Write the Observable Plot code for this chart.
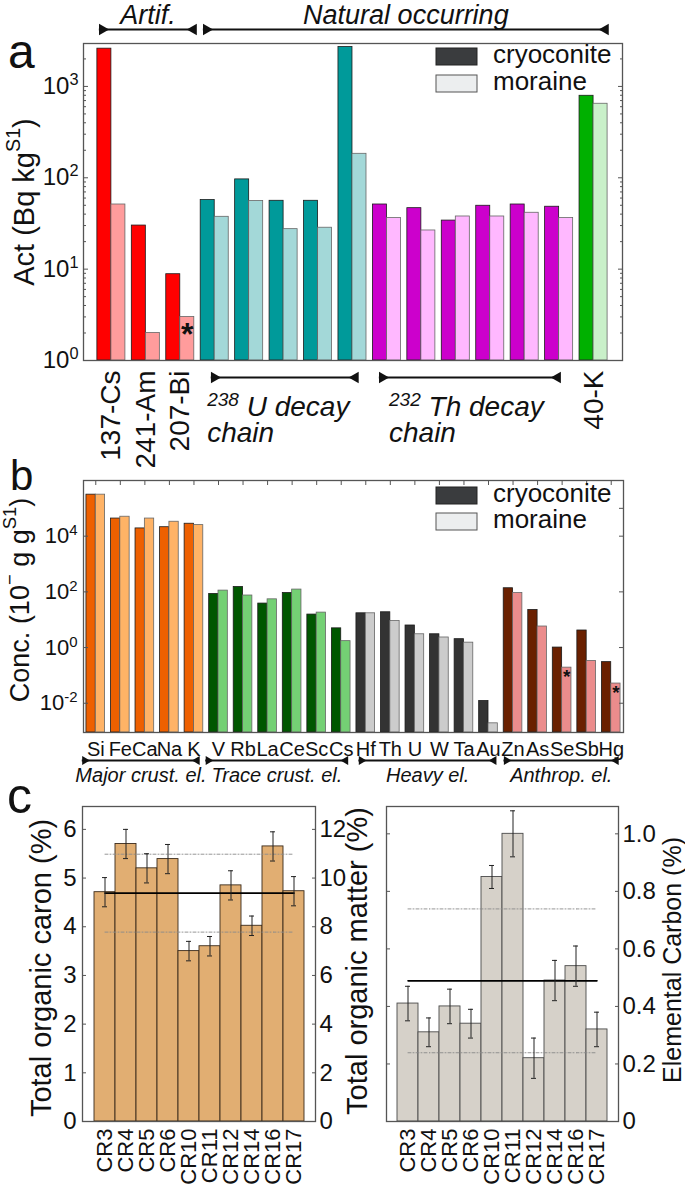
<!DOCTYPE html>
<html><head><meta charset="utf-8">
<script src="https://cdn.jsdelivr.net/npm/d3@7"></script>
<script src="https://cdn.jsdelivr.net/npm/@observablehq/plot@0.6"></script>
<style>
body{margin:0;background:#fff;}
#fig{position:relative;width:685px;height:1187px;overflow:hidden;background:#fff;}
#fig svg{position:absolute;max-width:none;}
</style></head><body><div id="fig"></div>
<script>
// ---------------- DATA ----------------
// Panel a: activity concentrations (Bq kg-1)
const nuclides = ["137-Cs","241-Am","207-Bi","238U chain 1","238U chain 2","238U chain 3","238U chain 4","238U chain 5",
  "232Th chain 1","232Th chain 2","232Th chain 3","232Th chain 4","232Th chain 5","232Th chain 6","40-K"];
const nuclideFamily = ["artif","artif","artif","U","U","U","U","U","Th","Th","Th","Th","Th","Th","K"];
const nuclideLabel = ["137-Cs","241-Am","207-Bi","","","","","","","","","","","","40-K"];
const actCryoconite = [2590, 30, 8.8, 57, 96, 56, 56, 2700, 51, 46.5, 34, 49.4, 51, 48.2, 790];
const actMoraine    = [51, 2.0, 3.0, 37.4, 55.6, 27.4, 28.4, 183, 36.2, 26.5, 37.7, 37.7, 41.4, 36.2, 646];
const actStarred = ["207-Bi"];
const ticksA = [1, 10, 100, 1000];
const minorA = [2,3,4,5,6,7,8,9,20,30,40,50,60,70,80,90,200,300,400,500,600,700,800,900,2000];
const spansA = [
  {text: "Artif.", x1: -0.35, x2: 2.47, side: "top"},
  {text: "Natural occurring", x1: 2.67, x2: 14.43, side: "top"},
  {text: "^{238} U decay\nchain", x1: 2.9, x2: 7.17, tx: 2.78, side: "bottom"},
  {text: "^{232} Th decay\nchain", x1: 7.78, x2: 13.04, tx: 8.06, side: "bottom"}
];

// Panel b: element concentrations
const elements = ["Si","Fe","Ca","Na","K","V","Rb","La","Ce","Sc","Cs","Hf","Th","U","W","Ta","Au","Zn","As","Se","Sb","Hg"];
const elementGroup = ["major","major","major","major","major","trace","trace","trace","trace","trace","trace",
  "heavy","heavy","heavy","heavy","heavy","heavy","anthrop","anthrop","anthrop","anthrop","anthrop"];
const concCryoconite = [3.1e5, 4.3e4, 1.9e4, 2.1e4, 2.8e4, 84, 150, 38, 91, 15.3, 4.9, 17, 18.5, 6.2, 3.0, 2.0, 0.012, 135, 22.4, 1.0, 4.1, 0.30];
const concMoraine    = [3.1e5, 5.0e4, 4.3e4, 3.3e4, 2.5e4, 111, 74, 54, 121, 18, 1.7, 17, 9.0, 3.0, 2.3, 1.5, 0.0019, 91, 5.7, 0.19, 0.33, 0.051];
const concStarred = ["Se","Hg"];
const ticksB = [1e-2, 1, 1e2, 1e4];
const rightTicksB = [1e-2, 1, 1e2, 1e4, 1e5];
const spansB = [
  {text: "Major crust. el.", x1: -0.55, x2: 4.23},
  {text: "Trace crust. el.", x1: 4.48, x2: 10.28},
  {text: "Heavy el.", x1: 10.72, x2: 16.32},
  {text: "Anthrop. el.", x1: 16.63, x2: 21.3}
];

// Panel c
const samples = ["CR3","CR4","CR5","CR6","CR10","CR11","CR12","CR14","CR16","CR17"];
const toc    = [4.71, 5.70, 5.20, 5.39, 3.50, 3.60, 4.85, 4.02, 5.65, 4.73];
const tocErr = [0.30, 0.30, 0.30, 0.30, 0.20, 0.20, 0.30, 0.20, 0.30, 0.30];
const tocMean = 4.69, tocSd = 0.80;
const ec    = [0.41, 0.31, 0.40, 0.34, 0.85, 1.00, 0.22, 0.49, 0.54, 0.32];
const ecErr = [0.06, 0.05, 0.06, 0.05, 0.04, 0.08, 0.07, 0.07, 0.07, 0.06];
const ecMean = 0.489, ecSd = 0.25;
const ticksTOC = [0,1,2,3,4,5,6];
const ticksTOM = [0,2,4,6,8,10,12];
const tomPerToc = 2;
const ticksEC = [0,0.2,0.4,0.6,0.8,1.0];

// ---------------- STYLE ----------------
const FONT = '"Liberation Sans", Arial, Helvetica, sans-serif';
const familyColorsA = {artif: ["#ff0000","#ff9c9c"], U: ["#009a9a","#a3d8d8"], Th: ["#cc00cc","#ffb8ff"], K: ["#00b000","#c9f0c9"]};
const groupColorsB = {major: ["#ee6000","#ffb366"], trace: ["#005700","#74d074"], heavy: ["#333333","#cccccc"], anthrop: ["#6a2000","#eb8c8c"]};
const HALF_A = 0.407, HALF_B = 0.38;
const svgNS = "http://www.w3.org/2000/svg";
const fig = document.getElementById("fig");

function supify(root) {
  const walker = document.createTreeWalker(root, NodeFilter.SHOW_TEXT);
  const nodes = [];
  while (walker.nextNode()) if (walker.currentNode.nodeValue.includes("^{")) nodes.push(walker.currentNode);
  for (const node of nodes) {
    const parts = node.nodeValue.split(/\^\{([^}]*)\}/);
    const frag = document.createDocumentFragment();
    parts.forEach((p, k) => {
      if (!p) return;
      if (k % 2) {
        const t = document.createElementNS(svgNS, "tspan");
        t.setAttribute("baseline-shift", "super");
        t.setAttribute("style", "font-size:0.68em");
        t.textContent = p;
        frag.appendChild(t);
      } else frag.appendChild(document.createTextNode(p));
    });
    node.parentNode.replaceChild(frag, node);
  }
}
function place(el, left, top) {
  el.style.position = "absolute";
  el.style.left = left + "px";
  el.style.top = top + "px";
  fig.appendChild(el);
  supify(el);
}
const baseStyle = {fontFamily: FONT, fontSize: "24px", background: "transparent", overflow: "visible", color: "#111", maxWidth: "none"};
const logLabel = d => "10^{" + Math.round(Math.log10(d)) + "}";
const blank = () => "";

// ---------------- PANEL A ----------------
const rowsA = nuclides.map((name, i) => ({name, i, family: nuclideFamily[i], label: nuclideLabel[i],
  cryo: actCryoconite[i], mor: actMoraine[i], star: actStarred.includes(name)}));
const yA = [1, 2950];
const marksA = [];
for (const [fam, [cCol, mCol]] of Object.entries(familyColorsA)) {
  const rs = rowsA.filter(r => r.family === fam);
  marksA.push(
    Plot.rect(rs, {x1: r => r.i - HALF_A, x2: r => r.i, y1: () => yA[0], y2: "cryo", fill: cCol, stroke: "#1b1b1b", strokeWidth: 0.8}),
    Plot.rect(rs, {x1: r => r.i, x2: r => r.i + HALF_A, y1: () => yA[0], y2: "mor", fill: mCol, stroke: "#666", strokeWidth: 0.8})
  );
}
const topA = spansA.filter(s => s.side === "top"), botA = spansA.filter(s => s.side === "bottom");
const plotA = Plot.plot({
  width: 685, height: 465, marginLeft: 83, marginRight: 63, marginTop: 43, marginBottom: 105,
  style: baseStyle,
  x: {domain: [-0.81, 14.84], axis: null, label: null},
  y: {type: "log", domain: yA, label: null},
  marks: [
    ...marksA,
    Plot.text(rowsA.filter(r => r.star), {x: r => r.i + HALF_A / 2, y: "mor", text: () => "*", fontSize: 32, fontWeight: "bold", dy: 18}),
    Plot.text(rowsA.filter(r => r.label), {x: "i", y: () => yA[0], text: "label", rotate: -90, textAnchor: "end", dy: 10, fontSize: 28}),
    Plot.ruleY(topA, {y: () => yA[1], x1: "x1", x2: "x2", dy: -14, stroke: "#111", strokeWidth: 2.2}),
    Plot.dot(topA, {x: "x1", y: () => yA[1], dy: -14, dx: 3, symbol: "triangle", r: 4.3, rotate: 90, fill: "#111"}),
    Plot.dot(topA, {x: "x2", y: () => yA[1], dy: -14, dx: -3, symbol: "triangle", r: 4.3, rotate: -90, fill: "#111"}),
    Plot.text(topA, {x: d => (d.x1 + d.x2) / 2, y: () => yA[1], dy: -28, text: "text", fontStyle: "italic", fontSize: 27}),
    Plot.ruleY(botA, {y: () => yA[0], x1: "x1", x2: "x2", dy: 17, stroke: "#111", strokeWidth: 2.2}),
    Plot.dot(botA, {x: "x1", y: () => yA[0], dy: 17, dx: 3, symbol: "triangle", r: 4.3, rotate: 90, fill: "#111"}),
    Plot.dot(botA, {x: "x2", y: () => yA[0], dy: 17, dx: -3, symbol: "triangle", r: 4.3, rotate: -90, fill: "#111"}),
    Plot.text(botA, {x: "tx", y: () => yA[0], dy: 37, text: "text", textAnchor: "start", lineAnchor: "top", lineHeight: 0.92, fontStyle: "italic", fontSize: 28}),
    Plot.axisY(ticksA, {anchor: "left", tickSize: 0, tickPadding: 5, tickFormat: logLabel, fontSize: 24, label: null}),
    Plot.axisY(ticksA, {anchor: "left", tickSize: -5, tickFormat: blank, label: null, stroke: "#555"}),
    Plot.axisY(minorA, {anchor: "left", tickSize: -3, tickFormat: blank, label: null, stroke: "#555"}),
    Plot.axisY(ticksA, {anchor: "right", tickSize: -5, tickFormat: blank, label: null, stroke: "#555"}),
    Plot.axisY(minorA, {anchor: "right", tickSize: -3, tickFormat: blank, label: null, stroke: "#555"}),
    Plot.frame({stroke: "#555", strokeWidth: 1.3})
  ]
});
place(plotA, 0, 0);

// ---------------- PANEL B ----------------
const rowsB = elements.map((el, i) => ({el, i, group: elementGroup[i], cryo: concCryoconite[i], mor: concMoraine[i], star: concStarred.includes(el)}));
const yB = [8.9e-4, 1e6];
const marksB = [];
for (const [grp, [cCol, mCol]] of Object.entries(groupColorsB)) {
  const rs = rowsB.filter(r => r.group === grp);
  marksB.push(
    Plot.rect(rs, {x1: r => r.i - HALF_B, x2: r => r.i, y1: () => yB[0], y2: "cryo", fill: cCol, stroke: "#1b1b1b", strokeWidth: 0.8}),
    Plot.rect(rs, {x1: r => r.i, x2: r => r.i + HALF_B, y1: () => yB[0], y2: "mor", fill: mCol, stroke: "#666", strokeWidth: 0.8})
  );
}
const plotB = Plot.plot({
  width: 685, height: 330, marginLeft: 83, marginRight: 62, marginTop: 15, marginBottom: 63,
  style: baseStyle,
  x: {domain: [-0.5, elements.length - 0.5], label: null},
  y: {type: "log", domain: yB, label: null},
  marks: [
    ...marksB,
    Plot.text(rowsB.filter(r => r.star), {x: r => r.i + HALF_B / 2, y: "mor", text: () => "*", fontSize: 19, fontWeight: "bold", dy: 9}),
    Plot.text(rowsB, {x: "i", y: () => yB[0], text: "el", dy: 17, fontSize: 20}),
    Plot.ruleY(spansB, {y: () => yB[0], x1: "x1", x2: "x2", dy: 28, stroke: "#111", strokeWidth: 1.8}),
    Plot.dot(spansB, {x: "x1", y: () => yB[0], dy: 28, dx: 2.5, symbol: "triangle", r: 3.3, rotate: 90, fill: "#111"}),
    Plot.dot(spansB, {x: "x2", y: () => yB[0], dy: 28, dx: -2.5, symbol: "triangle", r: 3.3, rotate: -90, fill: "#111"}),
    Plot.text(spansB, {x: d => (d.x1 + d.x2) / 2, y: () => yB[0], dy: 43, text: "text", fontStyle: "italic", fontSize: 20}),
    Plot.axisY(ticksB, {anchor: "left", tickSize: 0, tickPadding: 6, tickFormat: logLabel, fontSize: 22, label: null}),
    Plot.axisY(ticksB, {anchor: "left", tickSize: -5, tickFormat: blank, label: null, stroke: "#555"}),
    Plot.axisY(rightTicksB, {anchor: "right", tickSize: -5, tickFormat: blank, label: null, stroke: "#555"}),
    Plot.axisX(rowsB.map(r => r.i), {anchor: "top", tickSize: -4, tickFormat: blank, label: null, stroke: "#555"}),
    Plot.frame({stroke: "#555", strokeWidth: 1.3})
  ]
});
place(plotB, 0, 465);

// ---------------- PANEL C ----------------
const rowsC = samples.map((s, i) => ({s, toc: toc[i], tocErr: tocErr[i], ec: ec[i], ecErr: ecErr[i]}));
function panelC({width, marginLeft, marginRight, yDomain, key, errKey, mean, sd, fill, stroke, padOuter, leftLabels, leftTicks, rightTicks, rightFormat}) {
  return Plot.plot({
    width, height: 392, marginLeft, marginRight, marginTop: 11, marginBottom: 66,
    style: baseStyle,
    x: {type: "band", domain: samples, paddingInner: 0, paddingOuter: padOuter, axis: null, label: null},
    y: {domain: yDomain, label: null},
    marks: [
      Plot.barY(rowsC, {x: "s", y1: () => 0, y2: key, fill, stroke, strokeWidth: 0.9}),
      Plot.lineY(rowsC, {x: "s", y: () => mean + sd, stroke: "#8a8a8a", strokeWidth: 0.9, strokeDasharray: "3,2,1,2"}),
      Plot.lineY(rowsC, {x: "s", y: () => mean - sd, stroke: "#8a8a8a", strokeWidth: 0.9, strokeDasharray: "3,2,1,2"}),
      Plot.lineY(rowsC, {x: "s", y: () => mean, stroke: "#000", strokeWidth: 1.6}),
      Plot.ruleX(rowsC, {x: "s", y1: r => r[key] - r[errKey], y2: r => r[key] + r[errKey], stroke: "#222", strokeWidth: 1}),
      Plot.tickY(rowsC, {x: "s", y: r => r[key] + r[errKey], insetLeft: 8, insetRight: 8, stroke: "#222", strokeWidth: 1}),
      Plot.tickY(rowsC, {x: "s", y: r => r[key] - r[errKey], insetLeft: 8, insetRight: 8, stroke: "#222", strokeWidth: 1}),
      Plot.text(rowsC, {x: "s", y: () => 0, text: "s", rotate: -90, textAnchor: "end", dy: 7, fontSize: 22}),
      ...(leftLabels ? [Plot.axisY(leftTicks, {anchor: "left", tickSize: 0, tickPadding: 6, fontSize: 24, label: null})] : []),
      Plot.axisY(leftTicks, {anchor: "left", tickSize: -4, tickFormat: blank, label: null, stroke: "#555"}),
      Plot.axisY(rightTicks, {anchor: "right", tickSize: 0, tickPadding: 4, tickFormat: rightFormat, fontSize: 24, label: null}),
      Plot.axisY(rightTicks, {anchor: "right", tickSize: -4, tickFormat: blank, label: null, stroke: "#555"}),
      Plot.frame({stroke: "#555", strokeWidth: 1.3})
    ]
  });
}
const plotC1 = panelC({width: 342, marginLeft: 82, marginRight: 27, yDomain: [0, 6.47], key: "toc", errKey: "tocErr",
  mean: tocMean, sd: tocSd, fill: "#e1ae72", stroke: "#3b2b1b", padOuter: 0.4, leftLabels: true, leftTicks: ticksTOC,
  rightTicks: ticksTOM.map(t => t / tomPerToc), rightFormat: d => String(Math.round(d * tomPerToc))});
place(plotC1, 0, 795);
const plotC2 = panelC({width: 343, marginLeft: 44, marginRight: 67, yDomain: [0, 1.095], key: "ec", errKey: "ecErr",
  mean: ecMean, sd: ecSd, fill: "#d6d1c9", stroke: "#4a4a4a", padOuter: 0.45, leftLabels: false, leftTicks: ticksEC.slice(1),
  rightTicks: ticksEC, rightFormat: d => d === 0 ? "0" : d.toFixed(1)});
place(plotC2, 342, 795);

// ---------------- OVERLAY: panel letters, axis titles, legends ----------------
const over = d3.create("svg").attr("width", 685).attr("height", 1187)
  .style("font-family", FONT).style("fill", "#111").style("overflow", "visible");
function txt(str, x, y, {size, rotate = 0, anchor = "start", baseline = "auto", style = "normal"}) {
  over.append("text").attr("transform", `translate(${x},${y}) rotate(${rotate})`)
    .attr("text-anchor", anchor).attr("dominant-baseline", baseline)
    .style("font-size", size + "px").style("font-style", style).text(str);
}
txt("a", 8, 68, {size: 48});
txt("b", 10, 490, {size: 42});
txt("c", 7, 813, {size: 50});
txt("Act (Bq kg^{S1})", 24, 202, {size: 29, rotate: -90, anchor: "middle", baseline: "central"});
txt("Conc. (10^{−}  g g^{S1})", 20, 600, {size: 27, rotate: -90, anchor: "middle", baseline: "central"});
txt("Total organic caron (%)", 41, 968, {size: 29, rotate: -90, anchor: "middle", baseline: "central"});
txt("Total organic matter (%)", 357, 961, {size: 29, rotate: -90, anchor: "middle", baseline: "central"});
txt("Elemental Carbon (%)", 672, 960, {size: 25, rotate: -90, anchor: "middle", baseline: "central"});
function legend(y0, y1) {
  over.append("rect").attr("x", 436).attr("y", y0).attr("width", 41).attr("height", 17).attr("fill", "#3a3c3e").attr("stroke", "#222");
  over.append("rect").attr("x", 436).attr("y", y1).attr("width", 41).attr("height", 17).attr("fill", "#eceeef").attr("stroke", "#555");
  txt("cryoconite", 493, y0 + 15, {size: 26});
  txt("moraine", 493, y1 + 15, {size: 26});
}
legend(48, 75);
legend(487, 513);
place(over.node(), 0, 0);
</script></body></html>
